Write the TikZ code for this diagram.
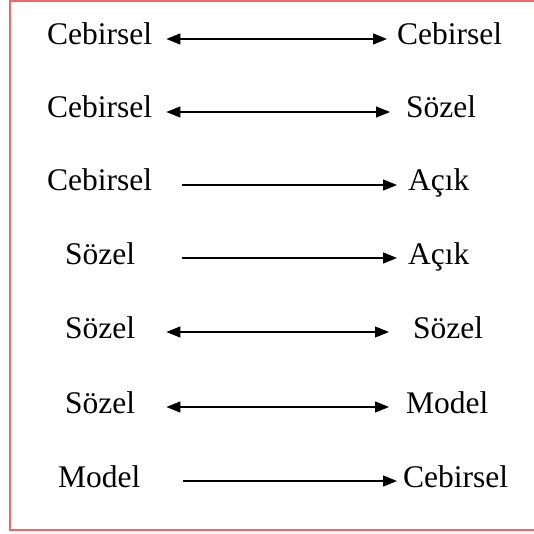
\documentclass[tikz,border=0pt]{standalone}
\usepackage{fontspec}
\setmainfont{Liberation Serif}
\usetikzlibrary{arrows.meta}
\definecolor{framered}{RGB}{240,102,106}
\begin{document}
\begin{tikzpicture}[x=1pt,y=-1pt,
  term/.style={anchor=base west, inner sep=0pt, font=\fontsize{31.5}{36}\selectfont},
  link/.style={line width=1.4pt, -{Triangle[length=14pt,width=11pt]}},
  twoway/.style={line width=1.4pt, {Triangle[length=14pt,width=11pt]}-{Triangle[length=14pt,width=11pt]}}]
\useasboundingbox (0,0) rectangle (533,534);
% frame, open past the right edge
\draw[framered, line width=2pt] (10,1) rectangle (560,529.5);

% left and right terms, one row each
\node[term] (l1) at (47,45)  {Cebirsel};
\node[term] (r1) at (397,45) {Cebirsel};
\node[term] (l2) at (47,118) {Cebirsel};
\node[term] (r2) at (406,118) {Sözel};
\node[term] (l3) at (47,191) {Cebirsel};
\node[term] (r3) at (408,191) {Açık};
\node[term] (l4) at (65,264) {Sözel};
\node[term] (r4) at (408,264) {Açık};
\node[term] (l5) at (65,338) {Sözel};
\node[term] (r5) at (413,338) {Sözel};
\node[term] (l6) at (65,413) {Sözel};
\node[term] (r6) at (406,413) {Model};
\node[term] (l7) at (58,487) {Model};
\node[term] (r7) at (403,487) {Cebirsel};

% connectors
\draw[twoway] ([xshift=14pt,yshift=6pt]l1.base east) -- ([xshift=-10pt,yshift=6pt]r1.base west);
\draw[twoway] ([xshift=14pt,yshift=6pt]l2.base east) -- ([xshift=-16pt,yshift=6pt]r2.base west);
\draw[link]   ([xshift=30pt,yshift=6pt]l3.base east) -- ([xshift=-11pt,yshift=6pt]r3.base west);
\draw[link]   ([xshift=47pt,yshift=6pt]l4.base east) -- ([xshift=-11pt,yshift=6pt]r4.base west);
\draw[twoway] ([xshift=31pt,yshift=6pt]l5.base east) -- ([xshift=-24pt,yshift=6pt]r5.base west);
\draw[twoway] ([xshift=31pt,yshift=6pt]l6.base east) -- ([xshift=-17pt,yshift=6pt]r6.base west);
\draw[link]   ([xshift=42pt,yshift=6pt]l7.base east) -- ([xshift=-6pt,yshift=6pt]r7.base west);
\end{tikzpicture}
\end{document}
